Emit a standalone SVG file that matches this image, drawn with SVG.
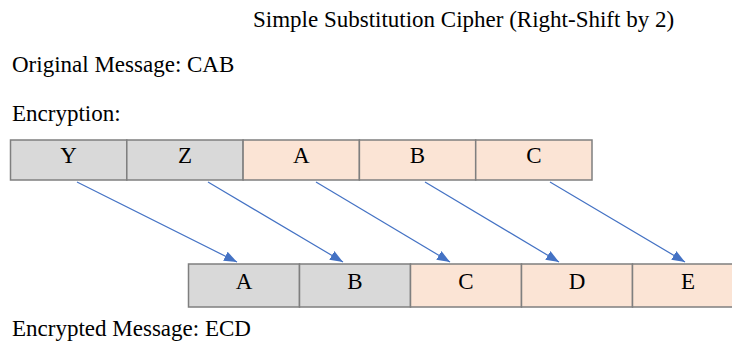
<svg xmlns="http://www.w3.org/2000/svg" width="732" height="343" viewBox="0 0 732 343">
<style>
text{font-family:"Liberation Serif","Times New Roman",serif;font-size:23px;fill:#000}
.cell text{text-anchor:middle}
.g{fill:#d9d9d9;stroke:#7f7f7f;stroke-width:1.5}
.p{fill:#fbe4d5;stroke:#7f7f7f;stroke-width:1.5}
.arr{stroke:#4472c4;stroke-width:1.2;fill:none;marker-end:url(#ah)}
</style>
<defs>
<marker id="ah" markerUnits="userSpaceOnUse" markerWidth="14" markerHeight="12" refX="13" refY="5" orient="auto">
<path d="M0,0 L13,5 L0,10 Z" fill="#4472c4"/>
</marker>
</defs>
<rect width="732" height="343" fill="#fff"/>
<text id="title" x="253" y="27">Simple Substitution Cipher (Right-Shift by 2)</text>
<text id="orig" x="12" y="72">Original Message: CAB</text>
<text id="enc" x="12" y="121">Encryption:</text>
<text id="result" x="12" y="336">Encrypted Message: ECD</text>
<g id="top-row">
<g id="t-Y" class="cell"><rect class="g" x="10.5" y="140" width="116.3" height="40"/><text x="68.6" y="163">Y</text></g>
<g id="t-Z" class="cell"><rect class="g" x="126.8" y="140" width="116.3" height="40"/><text x="185" y="163">Z</text></g>
<g id="t-A" class="cell"><rect class="p" x="243.1" y="140" width="116.3" height="40"/><text x="301.2" y="163">A</text></g>
<g id="t-B" class="cell"><rect class="p" x="359.4" y="140" width="116.3" height="40"/><text x="417.5" y="163">B</text></g>
<g id="t-C" class="cell"><rect class="p" x="475.7" y="140" width="116.3" height="40"/><text x="533.8" y="163">C</text></g>
</g>
<g id="bottom-row">
<g id="b-A" class="cell"><rect class="g" x="188.5" y="264" width="111" height="43"/><text x="244" y="289">A</text></g>
<g id="b-B" class="cell"><rect class="g" x="299.5" y="264" width="111" height="43"/><text x="355" y="289">B</text></g>
<g id="b-C" class="cell"><rect class="p" x="410.5" y="264" width="111" height="43"/><text x="466" y="289">C</text></g>
<g id="b-D" class="cell"><rect class="p" x="521.5" y="264" width="111" height="43"/><text x="577" y="289">D</text></g>
<g id="b-E" class="cell"><rect class="p" x="632.5" y="264" width="111" height="43"/><text x="688" y="289">E</text></g>
</g>
<g id="connectors">
<line class="arr" x1="77" y1="182" x2="237" y2="262"/>
<line class="arr" x1="208" y1="182" x2="343" y2="262"/>
<line class="arr" x1="316" y1="182" x2="450" y2="262"/>
<line class="arr" x1="425" y1="182" x2="559" y2="262"/>
<line class="arr" x1="550" y1="182" x2="685" y2="262"/>
</g>
</svg>
